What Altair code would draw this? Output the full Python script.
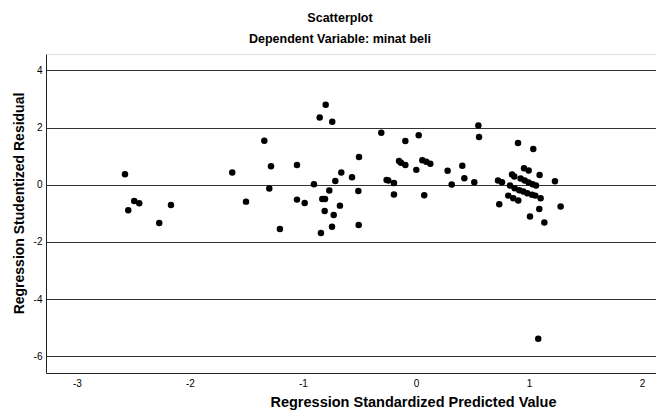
import altair as alt
import pandas as pd

pred = [-2.575, -2.493, -2.449, -2.546, -2.168, -2.272, -1.626, -1.504, -1.342, -1.283,
        -1.298, -1.204, -1.053, -1.053, -0.985, -0.903, -0.799, -0.852, -0.741, -0.767,
        -0.714, -0.661, -0.829, -0.805, -0.808, -0.728, -0.673, -0.743, -0.841, -0.566,
        -0.504, -0.510, -0.507, -0.307, -0.260, -0.245, -0.195, -0.195, -0.094, -0.150,
        -0.133, -0.094, 0.003, 0.024, 0.056, 0.091, 0.127, 0.073, 0.280, 0.316,
        0.410, 0.428, 0.516, 0.552, 0.558, 0.903, 1.038, 0.956, 0.997, 0.850,
        0.870, 1.094, 1.230, 0.726, 0.761, 0.926, 0.962, 0.997, 1.032, 1.062,
        0.832, 0.873, 0.914, 0.950, 0.985, 1.027, 1.056, 1.103, 0.817, 0.861,
        0.905, 0.737, 1.280, 1.091, 1.009, 1.136, 1.082]
resid = [0.37, -0.57, -0.65, -0.89, -0.71, -1.34, 0.43, -0.59, 1.54, 0.65,
         -0.13, -1.55, 0.69, -0.52, -0.64, 0.02, 2.80, 2.35, 2.20, -0.20,
         0.13, 0.43, -0.50, -0.50, -0.92, -1.06, -0.73, -1.47, -1.69, 0.26,
         0.97, -0.22, -1.41, 1.82, 0.17, 0.15, 0.06, -0.34, 1.53, 0.83,
         0.77, 0.69, 0.52, 1.73, 0.86, 0.80, 0.73, -0.37, 0.49, 0.01,
         0.66, 0.23, 0.09, 2.07, 1.67, 1.46, 1.25, 0.58, 0.50, 0.36,
         0.29, 0.34, 0.12, 0.15, 0.09, 0.22, 0.15, 0.08, 0.02, -0.03,
         -0.03, -0.12, -0.19, -0.24, -0.30, -0.35, -0.38, -0.47, -0.38, -0.47,
         -0.55, -0.68, -0.76, -0.85, -1.11, -1.32, -5.38]

x_ticks = [-3, -2, -1, 0, 1, 2]
y_ticks = [-6, -4, -2, 0, 2, 4]

df = pd.DataFrame({"pred": pred, "resid": resid})

FONT = "Liberation Sans"
label_expr = "replace(datum.label, '\u2212', '-')"

chart = alt.Chart(df).mark_circle(size=42, color="#000000", opacity=1).encode(
    x=alt.X("pred:Q",
            scale=alt.Scale(domain=[-3.274, 2.124], nice=False, zero=False),
            axis=alt.Axis(values=x_ticks, grid=False, ticks=False, domain=True,
                          domainColor="#222222", domainWidth=1,
                          labelFont=FONT, labelFontSize=10, labelColor="#000000",
                          labelPadding=5, labelExpr=label_expr,
                          title="Regression Standardized Predicted Value",
                          titleFont=FONT, titleFontSize=14.5, titleFontWeight="bold",
                          titleColor="#000000", titleX=367, titleY=29,
                          titleAlign="center", titleBaseline="middle")),
    y=alt.Y("resid:Q",
            scale=alt.Scale(domain=[-6.58, 4.57], nice=False, zero=False),
            axis=alt.Axis(values=y_ticks, grid=True, gridColor="#333333", gridWidth=1,
                          gridOpacity=1, ticks=False, domain=True,
                          domainColor="#222222", domainWidth=1,
                          labelFont=FONT, labelFontSize=10, labelColor="#000000",
                          labelPadding=4, labelExpr=label_expr,
                          title="Regression Studentized Residual",
                          titleFont=FONT, titleFontSize=14, titleFontWeight="bold",
                          titleColor="#000000", titleX=-27, titleY=149,
                          titleAngle=270, titleAlign="center", titleBaseline="middle")),
).properties(
    width=610,
    height=319,
    padding={"left": 38, "top": 46, "right": 0, "bottom": 40},
    autosize=alt.AutoSizeParams(type="none"),
    title=alt.Title(
        "Scatterplot",
        subtitle="Dependent Variable: minat beli",
        font=FONT, fontSize=12.5, fontWeight="bold", color="#000000",
        subtitleFont=FONT, subtitleFontSize=12.5, subtitleFontWeight="bold",
        subtitleColor="#000000", subtitlePadding=8,
        anchor="middle", frame="group", dx=-11, offset=9,
    ),
).configure_view(stroke=None).configure(background="#ffffff")

chart.save("out.html", embed_options={"renderer": "svg", "actions": False})
